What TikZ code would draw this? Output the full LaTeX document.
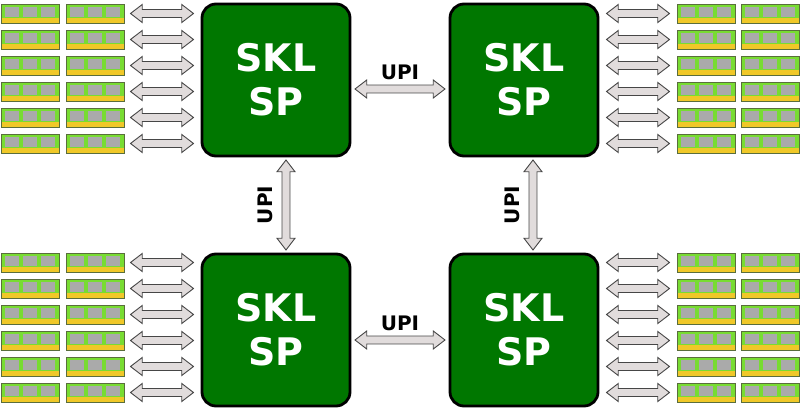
\documentclass[tikz,border=0pt]{standalone}
\usepackage{fontspec}
\setsansfont{DejaVu Sans}
\usetikzlibrary{shapes.arrows,positioning}

\definecolor{chipgreen}{RGB}{0,119,0}
\definecolor{busgray}{RGB}{225,220,220}
\definecolor{busline}{RGB}{70,70,70}
\definecolor{pcbgreen}{RGB}{120,220,50}
\definecolor{pinyellow}{RGB}{240,200,40}
\definecolor{dimmline}{RGB}{90,110,60}
\definecolor{memgray}{RGB}{170,170,170}

\tikzset{
  chip/.style={draw=black,line width=2.8pt,fill=chipgreen,rounded corners=14pt,
    minimum width=148pt,minimum height=152pt,text=white,align=center,
    font=\sffamily\bfseries\fontsize{38}{44}\selectfont},
  bus/.style={double arrow,draw=busline,fill=busgray,
    line width=0.9pt,inner sep=3.5pt,minimum width=18pt,double arrow head extend=5pt,
    double arrow tip angle=75},
  upi/.style={font=\sffamily\bfseries\fontsize{20}{24}\selectfont}
}

% Speicherriegel
\newcommand{\dimm}[2]{%
  \fill[pcbgreen] (#1,#2) rectangle ++(58,19);
  \fill[pinyellow] (#1,#2+14) rectangle ++(58,5);
  \draw[dimmline,line width=0.6pt] (#1,#2) rectangle ++(58,19);
  \foreach \k in {0,1,2}
    \fill[memgray] (#1+4+\k*18,#2+3) rectangle ++(14,10);
}

\begin{document}
\begin{tikzpicture}[x=1pt,y=-1pt]
  \useasboundingbox (0,0) rectangle (800,411);

  % Prozessoren
  \node[chip] (tl) at (276,80) {SKL\\SP};
  \node[chip] (tr) at (524,80) {SKL\\SP};
  \node[chip] (bl) at (276,330) {SKL\\SP};
  \node[chip] (br) at (524,330) {SKL\\SP};

  % Speicher und Anbindung
  \foreach \y in {4,30,56,82,108,134,253,279,305,331,357,383} {
    \dimm{1}{\y}
    \dimm{66}{\y}
    \dimm{677}{\y}
    \dimm{741}{\y}
    \node[bus,minimum height=63pt] at (162,\y+9.5) {};
    \node[bus,minimum height=63pt] at (638,\y+9.5) {};
  }

  % UPI-Verbindungen
  \node[bus,minimum height=90pt] (ut) at (400,89) {};
  \node[upi,above=1pt of ut] (lt) {UPI};
  \node[bus,minimum height=90pt] (ub) at (400,340) {};
  \node[upi,above=1pt of ub] (lb) {UPI};
  \node[bus,minimum height=90pt,rotate=90] (ul) at (286,205) {};
  \node[upi,rotate=90] (ll) at (265,205) {UPI};
  \node[bus,minimum height=90pt,rotate=90] (ur) at (533,205) {};
  \node[upi,rotate=90] (lr) at (512,205) {UPI};
\end{tikzpicture}
\end{document}
